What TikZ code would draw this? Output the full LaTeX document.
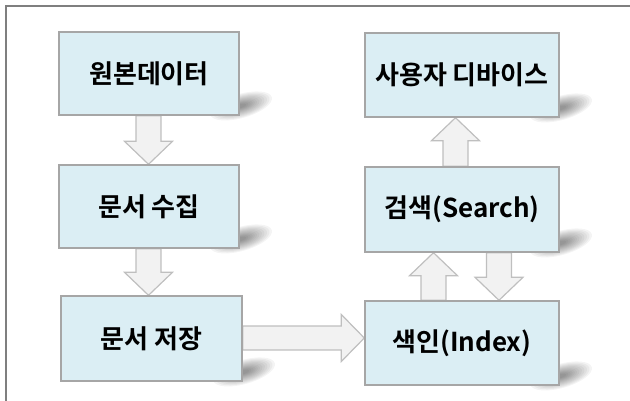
\documentclass[tikz,border=0pt]{standalone}
\usepackage{fontspec}
\newfontfamily\kr{Noto Sans CJK KR}[BoldFont={Noto Sans CJK KR Bold}]
\usetikzlibrary{calc}
\definecolor{boxfill}{HTML}{DBEEF4}
\definecolor{boxline}{HTML}{A6A6A6}
\definecolor{arrfill}{HTML}{F2F2F2}
\definecolor{arrline}{HTML}{BFBFBF}
\definecolor{frameline}{HTML}{7F7F7F}
\tikzset{
  box/.style={draw=boxline, line width=1.4pt, fill=boxfill, inner sep=0pt,
    font=\kr\bfseries\fontsize{26}{30}\selectfont, text=black},
  blk/.style={draw=arrline, line width=1.2pt, fill=arrfill, line join=miter},
  frame/.style={draw=frameline, line width=2pt},
  shadowblob/.style={fill=black, fill opacity=0.045}
}
% vertical block arrow from #1 to #2 (same x)
\newcommand\vblk[2]{%
  \draw[blk] let \p1=(#1), \p2=(#2), \n1={sign(\y2-\y1)} in
    (\x1-12.5pt,\y1) -- (\x1-12.5pt,{\y2-\n1*23pt}) -- (\x1-24pt,{\y2-\n1*23pt})
    -- (\x2,\y2) -- (\x1+24pt,{\y2-\n1*23pt}) -- (\x1+12.5pt,{\y2-\n1*23pt})
    -- (\x1+12.5pt,\y1) -- cycle;}
% horizontal block arrow from #1 to #2 (same y)
\newcommand\hblk[2]{%
  \draw[blk] let \p1=(#1), \p2=(#2), \n1={sign(\x2-\x1)} in
    (\x1,\y1+12pt) -- ({\x2-\n1*23pt},\y1+12pt) -- ({\x2-\n1*23pt},\y1+23.5pt)
    -- (\x2,\y2) -- ({\x2-\n1*23pt},\y1-23.5pt) -- ({\x2-\n1*23pt},\y1-12pt)
    -- (\x1,\y1-12pt) -- cycle;}
\begin{document}
\begin{tikzpicture}[x=1pt,y=-1pt]
\useasboundingbox (0,0) rectangle (630,401);
% node positions (drawn again on top later)
\path
  (149,73.5)  node[box, minimum width=180pt, minimum height=83pt] (n1) {원본데이터}
  (149,206.5) node[box, minimum width=180pt, minimum height=83pt] (n2) {문서 수집}
  (151.5,338.5) node[box, minimum width=181pt, minimum height=85pt] (n3) {문서 저장}
  (462,75)    node[box, minimum width=194pt, minimum height=84pt] (n4) {사용자 디바이스}
  (462,209.5) node[box, minimum width=194pt, minimum height=85pt] (n5) {검색(Search)}
  (462,343)   node[box, minimum width=194pt, minimum height=84pt] (n6) {색인(Index)};
% soft shadows
\foreach \n in {n1,n2,n3,n4,n5,n6}{
  \foreach \s in {1.0,0.92,0.84,0.76,0.68,0.6,0.52,0.45,0.38,0.31,0.24,0.17}{
    \fill[shadowblob, rotate around={16:($(\n.south east)+(4,-9)$)}]
      ($(\n.south east)+(4,-9)$) ellipse [x radius=\s*32pt, y radius=\s*12pt];
  }
}
% arrows
\vblk{$(n1.south)+(-0.5,0)$}{$(n2.north)+(-0.5,0)$}
\vblk{$(n2.south)+(-0.5,0)$}{$(n3.north)+(-3,0)$}
\vblk{$(n5.north)+(-6.5,0)$}{$(n4.south)+(-6.5,0)$}
\vblk{$(n6.north)+(-28.5,0)$}{$(n5.south)+(-28.5,0)$}
\vblk{$(n5.south)+(37,0)$}{$(n6.north)+(37,0)$}
\hblk{$(n3.east)+(0,-0.5)$}{n6.west |- {$(n3.east)+(0,-0.5)$}}
% boxes on top
\path
  (149,73.5)  node[box, minimum width=180pt, minimum height=83pt] {원본데이터}
  (149,206.5) node[box, minimum width=180pt, minimum height=83pt] {문서 수집}
  (151.5,338.5) node[box, minimum width=181pt, minimum height=85pt] {문서 저장}
  (462,75)    node[box, minimum width=194pt, minimum height=84pt] {사용자 디바이스}
  (462,209.5) node[box, minimum width=194pt, minimum height=85pt] {검색(Search)}
  (462,343)   node[box, minimum width=194pt, minimum height=84pt] {색인(Index)};
% frame
\coordinate (fc) at (5.5,6.5);
\coordinate (fr) at (630,6.5);
\coordinate (fb) at (5.5,401);
\draw[frame] (fb) -- (fc) -- (fr);
\end{tikzpicture}
\end{document}
